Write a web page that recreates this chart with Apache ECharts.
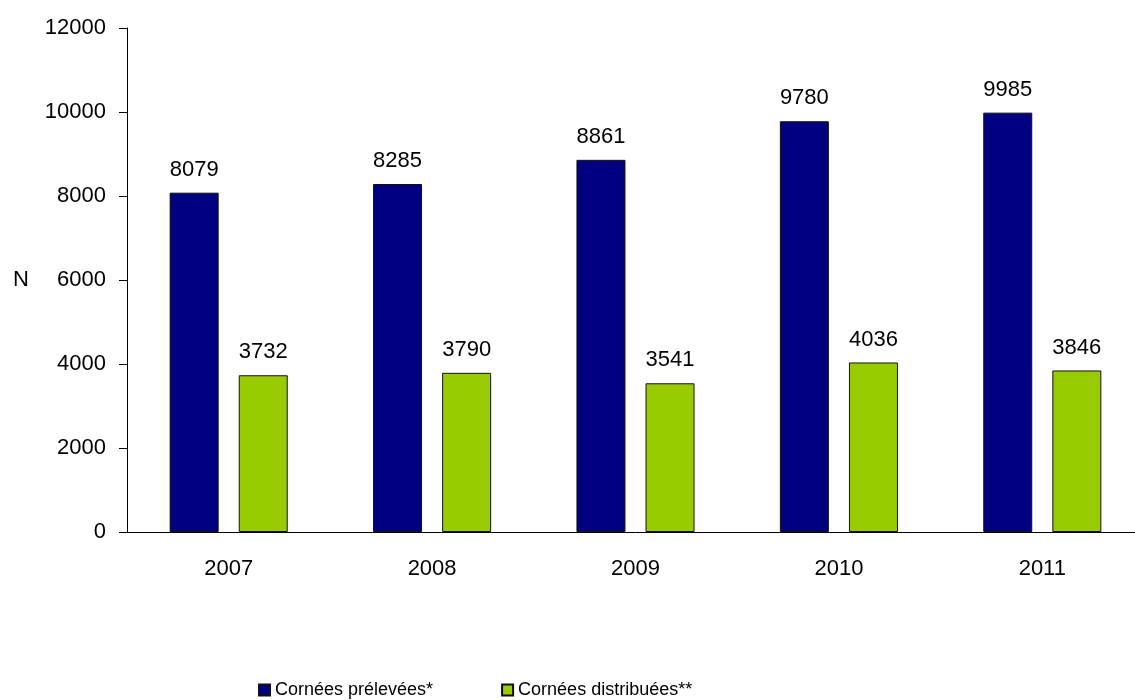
<!DOCTYPE html>
<html><head><meta charset="utf-8">
<script src="https://cdn.jsdelivr.net/npm/echarts@6/dist/echarts.min.js"></script>
<style>html,body{margin:0;padding:0;background:#fff;overflow:hidden;width:1135px;height:700px}#c{width:1145px;height:700px}</style>
</head><body><div id="c"></div>
<script>
const categories = ['2007', '2008', '2009', '2010', '2011'];
const prelevees = [8079, 8285, 8861, 9780, 9985];
const distribuees = [3732, 3790, 3541, 4036, 3846];
const seriesNames = ['Cornées prélevées*', 'Cornées distribuées**'];
const yTicks = { min: 0, max: 12000, interval: 2000 };

const chart = echarts.init(document.getElementById('c'), null, { renderer: 'canvas' });
const font = 'Liberation Sans, Arial, sans-serif';
const labelCfg = { show: true, position: 'top', distance: 12, color: '#000', fontSize: 22, fontFamily: font };
chart.setOption({
  animation: false,
  backgroundColor: '#fff',
  grid: { left: 127, right: 1, top: 28, bottom: 168, containLabel: false },
  legend: {
    left: 253, top: 676,
    itemWidth: 11, itemHeight: 11, itemGap: 68,
    icon: 'rect',
    textStyle: { fontFamily: font, fontSize: 18, color: '#000' },
    data: seriesNames
  },
  xAxis: {
    type: 'category', data: categories,
    axisLine: { lineStyle: { color: '#000', width: 1 } },
    axisTick: { show: false },
    axisLabel: { color: '#000', fontSize: 22, fontFamily: font, margin: 26 }
  },
  yAxis: {
    type: 'value', min: yTicks.min, max: yTicks.max, interval: yTicks.interval,
    name: 'N', nameLocation: 'middle', nameRotate: 0, nameGap: 98,
    nameTextStyle: { color: '#000', fontSize: 22, fontFamily: font },
    axisLine: { show: true, lineStyle: { color: '#000', width: 1 } },
    axisTick: { show: true, length: 8, lineStyle: { color: '#000' } },
    splitLine: { show: false },
    axisLabel: { color: '#000', fontSize: 22, fontFamily: font, margin: 21, formatter: v => String(v) }
  },
  series: [
    { name: seriesNames[0], type: 'bar', data: prelevees, barWidth: 49, barGap: '41%',
      itemStyle: { color: '#000080', borderColor: '#111', borderWidth: 1 }, label: labelCfg },
    { name: seriesNames[1], type: 'bar', data: distribuees, barWidth: 49, barGap: '41%',
      itemStyle: { color: '#99CC00', borderColor: '#111', borderWidth: 1 }, label: labelCfg }
  ]
});
</script></body></html>
